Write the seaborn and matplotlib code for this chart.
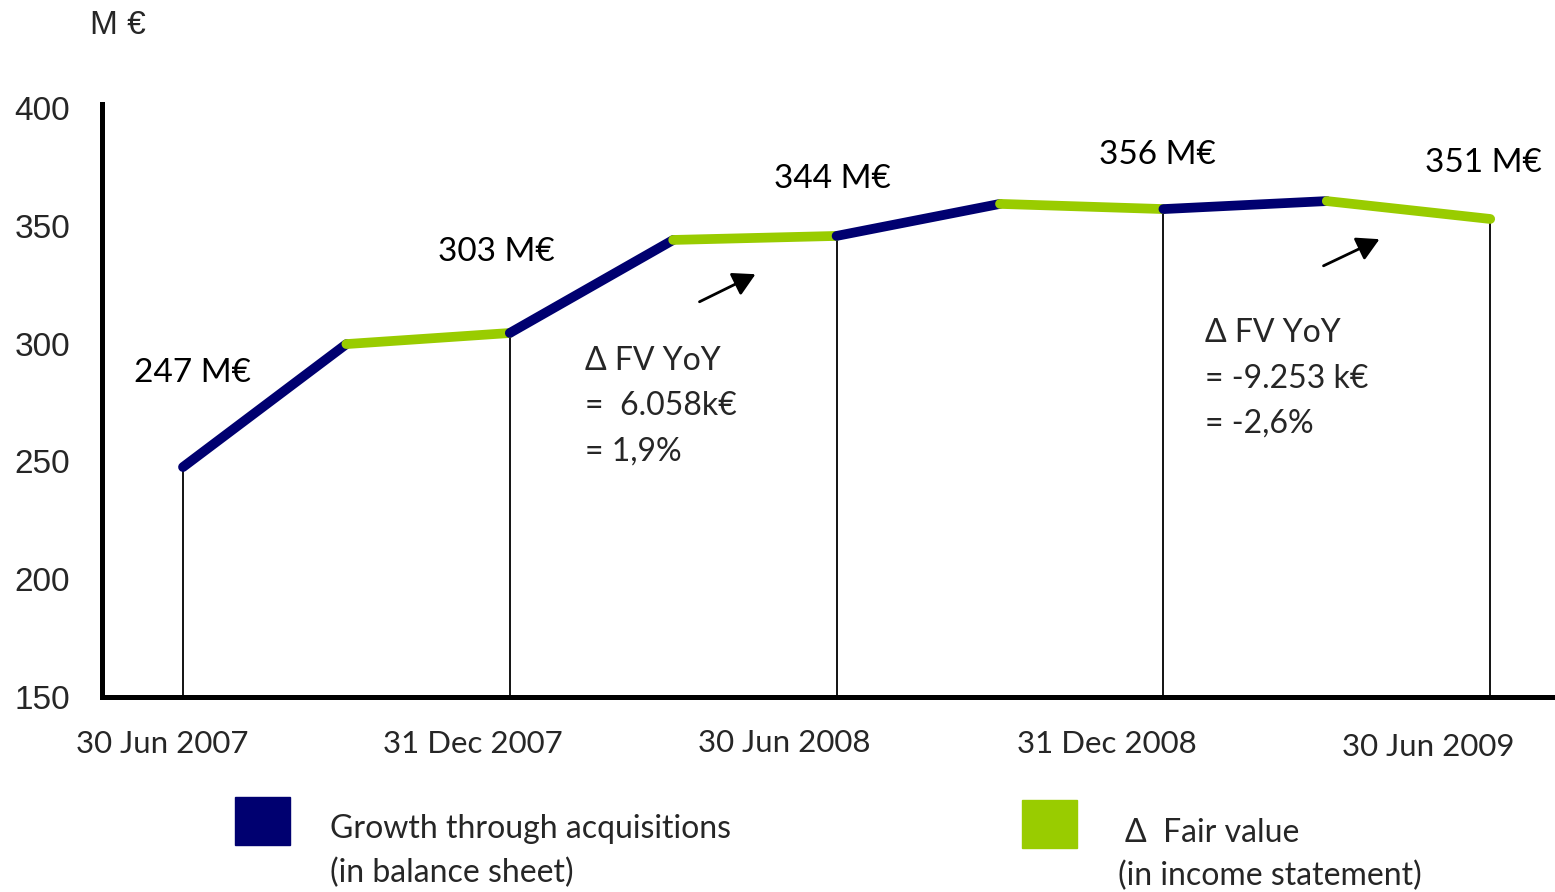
import matplotlib
matplotlib.use("Agg")
import matplotlib.pyplot as plt
import seaborn as sns
import pandas as pd
from matplotlib.patches import Rectangle

# ---- data ----
quarters = ["Jun 07", "Sep 07", "Dec 07", "Mar 08", "Jun 08", "Sep 08", "Dec 08", "Mar 09", "Jun 09"]
values = [247.6, 299.8, 304.5, 344.0, 345.7, 359.3, 357.1, 360.5, 352.9]
segment_type = ["acq", "fv", "acq", "fv", "acq", "fv", "acq", "fv"]  # segment i: point i -> i+1
label_idx = [0, 2, 4, 6, 8]
value_labels = ["247 M€", "303 M€", "344 M€", "356 M€", "351 M€"]
date_labels = ["30 Jun 2007", "31 Dec 2007", "30 Jun 2008", "31 Dec 2008", "30 Jun 2009"]
yticks = [150, 200, 250, 300, 350, 400]
legend_labels = [["Growth through acquisitions", "(in balance sheet)"],
                 ["Δ  Fair value", "(in income statement)"]]
note1 = ["Δ FV YoY", "=  6.058k€", "= 1,9%"]
note2 = ["Δ FV YoY", "= -9.253 k€", "= -2,6%"]

NAVY = "#000070"
GREEN = "#99CC00"
colors = {"acq": NAVY, "fv": GREEN}

sns.set_theme(style="white")
plt.rcParams["font.family"] = ["Lato", "DejaVu Sans"]

W, H = 1555, 892
fig = plt.figure(figsize=(W / 100, H / 100), dpi=100)

def fx(px):
    return px / W

def fy(py):
    return 1 - (py + 3) / H  # small shift: matplotlib centres include descent

def fyb(py):
    return 1 - py / H

ax = fig.add_axes([fx(102), fyb(697), 1 - fx(102), fyb(104) - fyb(697)])

df = pd.DataFrame({"x": range(len(values)), "y": values})

# vertical drop lines
for i in label_idx:
    ax.plot([i, i], [150, values[i]], color="black", lw=1.3, zorder=1,
            solid_capstyle="butt")

# coloured segments
for i, t in enumerate(segment_type):
    seg = df.iloc[i:i + 2]
    sns.lineplot(data=seg, x="x", y="y", ax=ax, color=colors[t], lw=7,
                 solid_capstyle="round", zorder=3, legend=False)

ax.set_xlim(-81 / 163.4, (1555 - 183) / 163.4)
ax.set_ylim(150, 401.7)
ax.set_yticks(yticks)
ax.set_yticklabels([str(v) for v in yticks], family="Liberation Sans", fontsize=24)
ax.tick_params(axis="y", length=0, pad=23)
ax.set_xticks([])
ax.set_xlabel("")
ax.set_ylabel("")
for s in ["top", "right"]:
    ax.spines[s].set_visible(False)
for s in ["left", "bottom"]:
    ax.spines[s].set_color("black")
    ax.spines[s].set_linewidth(3.6)

FS = 23
# value labels (offsets in px relative to the point)
val_off = [(9, -94), (-13, -81), (-4, -57), (-6, -54), (-7, -56)]
for i, lab, (dx, dy) in zip(label_idx, value_labels, val_off):
    ax.annotate(lab, (i, values[i]), xytext=(dx * 0.72, -dy * 0.72),
                textcoords="offset points", ha="center", va="center",
                fontsize=24, color="black")

# date labels
date_off = [(-21, 741), (-37, 741), (-52, 740), (-57, 741), (-62, 744)]
for i, lab, (dx, py) in zip(label_idx, date_labels, date_off):
    xpx = 183 + i * 163.4 + dx
    fig.text(fx(xpx), fy(py), lab, ha="center", va="center", fontsize=22.5)

fig.text(fx(118), fy(22), "M €", ha="center", va="center", fontsize=24,
         family="Liberation Sans")

# legend
fig.patches.append(Rectangle((fx(235), fyb(845)), fx(55), fyb(797) - fyb(845),
                             transform=fig.transFigure, color=NAVY))
fig.patches.append(Rectangle((fx(1022), fyb(848)), fx(55), fyb(800) - fyb(848),
                             transform=fig.transFigure, color=GREEN))
fig.text(fx(330), fy(826), legend_labels[0][0], ha="left", va="center", fontsize=FS)
fig.text(fx(330), fy(870), legend_labels[0][1], ha="left", va="center", fontsize=FS)
fig.text(fx(1125), fy(830), legend_labels[1][0], ha="left", va="center", fontsize=FS)
fig.text(fx(1118), fy(873), legend_labels[1][1], ha="left", va="center", fontsize=FS)

# notes
for lines, x0, ys in [(note1, 585, [358, 403, 449]), (note2, 1205, [330, 376, 421])]:
    for t, py in zip(lines, ys):
        fig.text(fx(x0), fy(py), t, ha="left", va="center", fontsize=FS)

# arrows
for (x1, y1, x2, y2) in [(697, 303, 758, 273), (1321, 267, 1382, 238)]:
    fig.add_artist(matplotlib.patches.FancyArrowPatch(
        (fx(x1), fyb(y1)), (fx(x2), fyb(y2)), transform=fig.transFigure,
        arrowstyle="-|>,head_length=9,head_width=5", color="black", lw=2,
        mutation_scale=1.5))

fig.savefig("out.png", dpi=100)
